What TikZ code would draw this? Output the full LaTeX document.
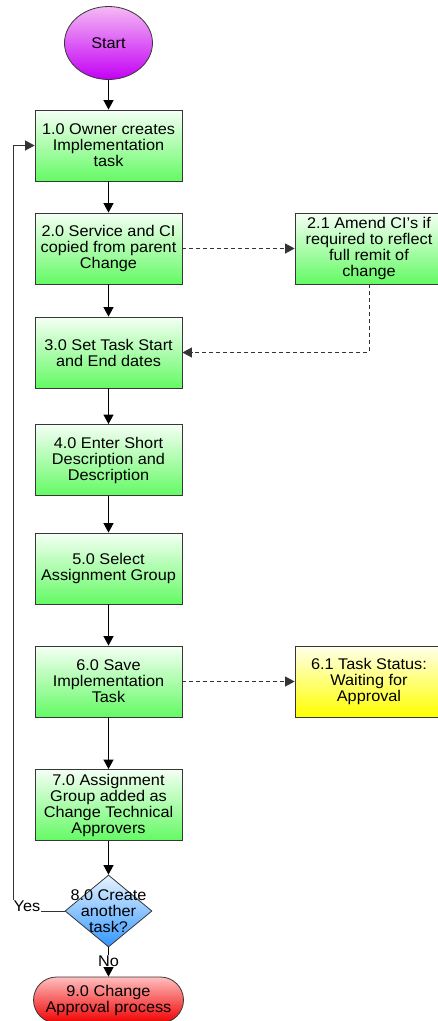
\documentclass[tikz,border=0pt]{standalone}
\usepackage{fontspec}
\setmainfont{Liberation Sans}[FakeStretch=1.05]
\usetikzlibrary{arrows.meta,shapes.geometric}

\definecolor{gtop}{RGB}{244,255,244}
\definecolor{gbot}{RGB}{100,250,100}
\definecolor{ytop}{RGB}{255,255,235}
\definecolor{ybot}{RGB}{255,255,0}
\definecolor{ptop}{RGB}{245,185,245}
\definecolor{pbot}{RGB}{195,0,245}
\definecolor{rtop}{RGB}{255,190,190}
\definecolor{rbot}{RGB}{240,0,0}
\definecolor{btop}{RGB}{232,244,255}
\definecolor{bbot}{RGB}{50,150,255}
\definecolor{edge}{RGB}{55,55,55}

\tikzset{
  txt/.style={font=\fontsize{15.5}{16}\selectfont, align=center, text=black},
  procbox/.style={txt, rectangle, draw=edge, line width=0.8pt,
    top color=gtop, bottom color=gbot, minimum width=147pt,
    minimum height=71pt, inner sep=0pt},
  sidebox/.style={procbox, minimum width=148pt},
  waitbox/.style={sidebox, top color=ytop, bottom color=ybot},
  startnode/.style={txt, ellipse, draw=edge, line width=0.8pt,
    top color=ptop, bottom color=pbot, minimum width=88pt,
    minimum height=73pt, inner sep=0pt},
  endnode/.style={txt, rectangle, rounded corners=23pt, draw=edge,
    line width=0.8pt, top color=rtop, bottom color=rbot,
    minimum width=150pt, minimum height=46pt, inner sep=0pt},
  decision/.style={diamond, draw=edge, line width=0.8pt,
    top color=btop, bottom color=bbot, minimum width=87pt,
    minimum height=72pt, inner sep=0pt},
  flow/.style={line width=1pt, draw=black, -{Triangle[length=9.5pt,width=10pt]}},
  optional/.style={line width=0.8pt, draw=black!80, dash pattern=on 4pt off 3pt,
    -{Triangle[length=9.5pt,width=10pt]}},
  loopback/.style={line width=0.9pt, draw=black!80, -{Triangle[length=9.5pt,width=10pt]}},
  branch/.style={txt, fill=white, inner sep=0.5pt}
}

\begin{document}
\begin{tikzpicture}[x=1pt,y=-1pt]
  \clip (0,0) rectangle (438,1021);

  % terminators, steps and the decision
  \node[startnode] (start) at (108.5,43) {Start};
  \node[procbox] (b1) at (108.5,145.5) {1.0 Owner creates\\Implementation\\task};
  \node[procbox] (b2) at (108.5,248.5) {2.0 Service and CI\\copied from parent\\Change};
  \node[sidebox] (b21) at (369,248.5) {2.1 Amend CI's if\\required to reflect\\full remit of\\change};
  \node[procbox] (b3) at (108.5,352.5) {3.0 Set Task Start\\and End dates};
  \node[procbox] (b4) at (108.5,460) {4.0 Enter Short\\Description and\\Description};
  \node[procbox] (b5) at (108.5,568.5) {5.0 Select\\Assignment Group};
  \node[procbox] (b6) at (108.5,681.5) {6.0 Save\\Implementation\\Task};
  \node[waitbox] (b61) at (369,681.5) {6.1 Task Status:\\Waiting for\\Approval};
  \node[procbox] (b7) at (108.5,805) {7.0 Assignment\\Group added as\\Change Technical\\Approvers};
  \node[decision] (d) at (108.5,911) {};
  \node[endnode] (end) at (108.5,1000) {9.0 Change\\Approval process};

  % main sequence
  \draw[flow] (start) -- (b1);
  \draw[flow] (b1) -- (b2);
  \draw[flow] (b2) -- (b3);
  \draw[flow] (b3) -- (b4);
  \draw[flow] (b4) -- (b5);
  \draw[flow] (b5) -- (b6);
  \draw[flow] (b6) -- (b7);
  \draw[flow] (b7) -- (d);
  \draw[flow] (d) -- (end);

  % side branches
  \draw[optional] (b2) -- (b21);
  \draw[optional] (b21.south) |- (b3.east);
  \draw[optional] (b6) -- (b61);

  % loop back for another task
  \coordinate (yc) at (13,911);
  \draw[loopback] (d.west) -- (yc) |- (b1.west);

  % decision text and branch labels
  \node[txt] (q) at (d.center) {8.0 Create\\another\\task?};
  \node[branch] (yes) at (27,906) {Yes};
  \node[branch] (no) at (108.5,961) {No};
\end{tikzpicture}
\end{document}
